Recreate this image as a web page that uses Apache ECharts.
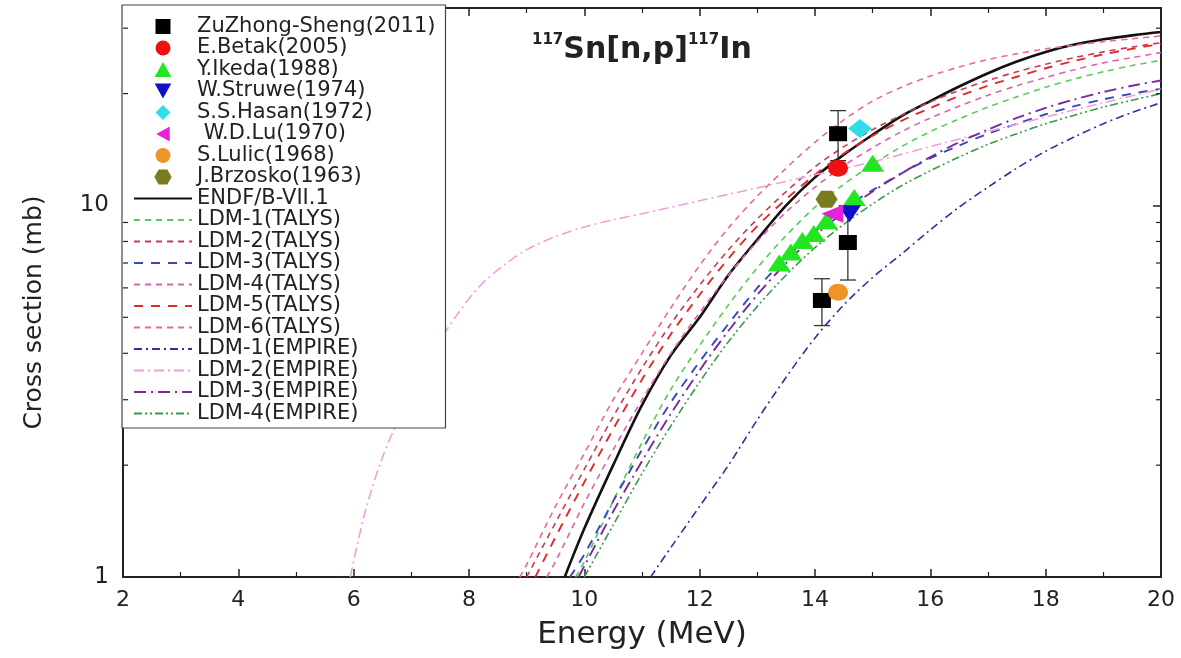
<!DOCTYPE html>
<html>
<head>
<meta charset="utf-8">
<title>117Sn[n,p]117In cross section</title>
<script src="https://cdn.jsdelivr.net/npm/echarts@6/dist/echarts.min.js"></script>
<style>
  html, body { margin: 0; padding: 0; background: #fff; }
  #chart { width: 1181px; height: 658px; }
</style>
</head>
<body>
<div id="chart"></div>
<script>
// axis ranges
var xMin = 2, xMax = 20;
var yMin = 1, yMax = 34;
var minorTickValues = [2, 3, 4, 5, 6, 7, 8, 9, 20, 30];

// experimental points  [E (MeV), sigma (mb)]
var zuZhong = [[14.4, 15.6], [14.57, 7.95], [14.12, 5.55]];
var zuZhongErr = [2.4, 1.65, 0.8];
var betak = [[14.4, 12.6]];
var ikeda = [[13.38, 7.0], [13.58, 7.5], [13.78, 8.05], [13.98, 8.4], [14.2, 9.1], [14.68, 10.5], [15.0, 13.0]];
var struwe = [[14.6, 9.5]];
var hasan = [[14.78, 16.1]];
var wdLu = [[14.3, 9.5]];
var lulic = [[14.4, 5.84]];
var brzosko = [[14.2, 10.4]];

// evaluated / calculated curves
var endf = [[9.66, 1.0], [10, 1.35], [10.5, 2.0], [11, 2.9], [11.5, 3.95], [12, 5.0], [12.5, 6.5], [13, 8.1], [13.5, 10.0], [14, 11.9], [14.5, 13.7], [15, 15.5], [15.5, 17.4], [16, 19.1], [16.5, 20.9], [17, 22.7], [17.5, 24.4], [18, 25.9], [18.5, 27.1], [19, 28.0], [19.5, 28.7], [20, 29.3]];
var ldm1Talys = [[9.85, 1.0], [10, 1.1], [10.5, 1.6], [11, 2.3], [11.5, 3.2], [12, 4.2], [12.5, 5.4], [13, 6.8], [13.5, 8.3], [14, 9.9], [14.5, 11.4], [15, 12.9], [15.5, 14.4], [16, 15.8], [16.5, 17.1], [17, 18.4], [17.5, 19.6], [18, 20.8], [18.5, 21.9], [19, 22.9], [19.5, 23.8], [20, 24.6]];
var ldm2Talys = [[9.0, 1.0], [9.5, 1.4], [10, 1.95], [10.5, 2.7], [11, 3.65], [11.5, 4.8], [12, 6.1], [12.5, 7.6], [13, 9.2], [13.5, 10.9], [14, 12.7], [14.5, 14.4], [15, 16.0], [15.5, 17.5], [16, 19.0], [16.5, 20.4], [17, 21.7], [17.5, 22.9], [18, 24.0], [18.5, 25.0], [19, 25.9], [19.5, 26.7], [20, 27.4]];
var ldm3Talys = [[9.75, 1.0], [10, 1.15], [10.5, 1.6], [11, 2.2], [11.5, 2.95], [12, 3.8], [12.5, 4.8], [13, 6.0], [13.5, 7.2], [14, 8.5], [14.5, 9.8], [15, 11.0], [15.5, 12.2], [16, 13.4], [16.5, 14.5], [17, 15.6], [17.5, 16.6], [18, 17.6], [18.5, 18.5], [19, 19.3], [19.5, 20.0], [20, 20.6]];
var ldm4Talys = [[9.35, 1.0], [9.5, 1.1], [10, 1.58], [10.5, 2.2], [11, 3.0], [11.5, 4.0], [12, 5.15], [12.5, 6.5], [13, 8.0], [13.5, 9.6], [14, 11.2], [14.5, 12.8], [15, 14.3], [15.5, 15.8], [16, 17.2], [16.5, 18.5], [17, 19.8], [17.5, 21.0], [18, 22.1], [18.5, 23.2], [19, 24.2], [19.5, 25.0], [20, 25.8]];
var ldm5Talys = [[9.15, 1.0], [9.5, 1.28], [10, 1.8], [10.5, 2.5], [11, 3.4], [11.5, 4.5], [12, 5.75], [12.5, 7.2], [13, 8.8], [13.5, 10.4], [14, 12.1], [14.5, 13.8], [15, 15.4], [15.5, 16.9], [16, 18.3], [16.5, 19.7], [17, 21.0], [17.5, 22.2], [18, 23.4], [18.5, 24.5], [19, 25.5], [19.5, 26.4], [20, 27.2]];
var ldm6Talys = [[8.88, 1.0], [9, 1.08], [9.5, 1.55], [10, 2.15], [10.5, 3.0], [11, 4.0], [11.5, 5.3], [12, 6.9], [12.5, 8.7], [13, 10.6], [13.5, 12.6], [14, 14.8], [14.5, 17.0], [15, 19.1], [15.5, 20.8], [16, 22.3], [16.5, 23.6], [17, 24.7], [17.5, 25.6], [18, 26.4], [18.5, 27.0], [19, 27.6], [19.5, 28.1], [20, 28.6]];
var ldm1Empire = [[11.15, 1.0], [11.5, 1.2], [12, 1.55], [12.5, 2.0], [13, 2.65], [13.5, 3.45], [14, 4.4], [14.5, 5.4], [15, 6.4], [15.5, 7.4], [16, 8.6], [16.5, 9.9], [17, 11.2], [17.5, 12.6], [18, 14.0], [18.5, 15.3], [19, 16.6], [19.5, 17.8], [20, 18.9]];
var ldm2Empire = [[5.94, 1.0], [6.2, 1.5], [6.5, 2.1], [6.8, 2.7], [7.1, 3.35], [7.4, 4.1], [7.8, 5.1], [8.2, 6.1], [8.6, 6.9], [9, 7.6], [9.5, 8.25], [10, 8.75], [10.5, 9.15], [11, 9.5], [12, 10.3], [13, 11.15], [14, 12.1], [15, 13.1], [16, 14.4], [17, 15.8], [18, 17.3], [19, 18.9], [20, 20.6]];
var ldm3Empire = [[9.9, 1.0], [10, 1.07], [10.5, 1.5], [11, 2.05], [11.5, 2.75], [12, 3.6], [12.5, 4.6], [13, 5.75], [13.5, 7.0], [14, 8.3], [14.5, 9.6], [15, 10.9], [15.5, 12.2], [16, 13.5], [16.5, 14.8], [17, 16.0], [17.5, 17.2], [18, 18.3], [18.5, 19.3], [19, 20.2], [19.5, 21.0], [20, 21.7]];
var ldm4Empire = [[10.0, 1.0], [10.5, 1.38], [11, 1.9], [11.5, 2.55], [12, 3.35], [12.5, 4.3], [13, 5.35], [13.5, 6.5], [14, 7.7], [14.5, 8.9], [15, 10.1], [15.5, 11.3], [16, 12.4], [16.5, 13.5], [17, 14.6], [17.5, 15.6], [18, 16.6], [18.5, 17.5], [19, 18.4], [19.5, 19.2], [20, 20.0]];

// marker shapes
var SQUARE = 'path://M0,0L10,0L10,10L0,10Z';
var TRI_UP = 'path://M5,0L10,9L0,9Z';
var TRI_DOWN = 'path://M0,0L10,0L5,9Z';
var DIAMOND = 'path://M5,0L10,5L5,10L0,5Z';
var TRI_LEFT = 'path://M0,5L9,0L9,10Z';
var HEX = 'path://M2.5,0L7.5,0L10,4.33L7.5,8.66L2.5,8.66L0,4.33Z';

var font = 'DejaVu Sans';

function lineSeries(name, data, color, dash, width) {
    return {
        name: name, type: 'line', data: data, symbol: 'none', smooth: 0.3,
        lineStyle: { color: color, width: width || 1.6, type: dash },
        itemStyle: { color: color },
        z: 3, silent: true
    };
}

function pointSeries(name, data, symbol, size, color) {
    return {
        name: name, type: 'scatter', data: data, symbol: symbol, symbolSize: size,
        symbolKeepAspect: false,
        itemStyle: { color: color, opacity: 1 },
        z: 6
    };
}

var series = [
    lineSeries('ENDF/B-VII.1', endf, '#111111', 'solid', 2.6),
    lineSeries('LDM-1(TALYS)', ldm1Talys, '#55cc55', [6, 5]),
    lineSeries('LDM-2(TALYS)', ldm2Talys, '#c83a5a', [6, 5]),
    lineSeries('LDM-3(TALYS)', ldm3Talys, '#3848b8', [9, 8], 1.9),
    lineSeries('LDM-4(TALYS)', ldm4Talys, '#e060b0', [6, 5]),
    lineSeries('LDM-5(TALYS)', ldm5Talys, '#dd2a2a', [9, 8], 1.9),
    lineSeries('LDM-6(TALYS)', ldm6Talys, '#ee6a88', [6, 5]),
    lineSeries('LDM-1(EMPIRE)', ldm1Empire, '#3030a0', [8, 4, 2, 4]),
    lineSeries('LDM-2(EMPIRE)', ldm2Empire, '#eea0dd', [10, 4, 2, 4]),
    lineSeries('LDM-3(EMPIRE)', ldm3Empire, '#7a2a9a', [12, 5, 2, 5], 1.9),
    lineSeries('LDM-4(EMPIRE)', ldm4Empire, '#3a9a4a', [8, 3, 2, 3, 2, 3]),
    {
        name: 'errorBars', type: 'custom', silent: true, z: 5,
        data: zuZhong.map(function (p, i) { return [p[0], p[1] - zuZhongErr[i], p[1] + zuZhongErr[i]]; }),
        encode: { x: 0, y: [1, 2] },
        renderItem: function (params, api) {
            var lo = api.coord([api.value(0), api.value(1)]);
            var hi = api.coord([api.value(0), api.value(2)]);
            var c = 8;
            var st = { stroke: '#333', lineWidth: 1.3 };
            return {
                type: 'group', children: [
                    { type: 'line', shape: { x1: lo[0], y1: lo[1], x2: hi[0], y2: hi[1] }, style: st },
                    { type: 'line', shape: { x1: lo[0] - c, y1: lo[1], x2: lo[0] + c, y2: lo[1] }, style: st },
                    { type: 'line', shape: { x1: hi[0] - c, y1: hi[1], x2: hi[0] + c, y2: hi[1] }, style: st }
                ]
            };
        }
    },
    {
        // log minor ticks on left and right frame
        name: 'minorTicks', type: 'custom', silent: true, clip: false, z: 7,
        data: minorTickValues.map(function (v) { return [xMin, v]; }),
        encode: { x: 0, y: 1 },
        renderItem: function (params, api) {
            var a = api.coord([xMin, api.value(1)]);
            var b = api.coord([xMax, api.value(1)]);
            var st = { stroke: '#222', lineWidth: 1.2 };
            return {
                type: 'group', children: [
                    { type: 'line', shape: { x1: a[0], y1: a[1], x2: a[0] + 5, y2: a[1] }, style: st },
                    { type: 'line', shape: { x1: b[0] - 5, y1: b[1], x2: b[0], y2: b[1] }, style: st }
                ]
            };
        }
    },
    pointSeries('ZuZhong-Sheng(2011)', zuZhong, SQUARE, [18, 15], '#000000'),
    pointSeries('E.Betak(2005)', betak, 'circle', [20, 17], '#ee1111'),
    pointSeries('Y.Ikeda(1988)', ikeda, TRI_UP, [23, 17], '#22e622'),
    pointSeries('W.Struwe(1974)', struwe, TRI_DOWN, [23, 17], '#1010c8'),
    pointSeries('S.S.Hasan(1972)', hasan, DIAMOND, [24, 19], '#30dde8'),
    pointSeries(' W.D.Lu(1970)', wdLu, TRI_LEFT, [22, 18], '#e820d8'),
    pointSeries('S.Lulic(1968)', lulic, 'circle', [20, 17], '#ee9528'),
    pointSeries('J.Brzosko(1963)', brzosko, HEX, [22, 17], '#7a7a1e')
];

var curveNames = ['ENDF/B-VII.1', 'LDM-1(TALYS)', 'LDM-2(TALYS)', 'LDM-3(TALYS)', 'LDM-4(TALYS)',
    'LDM-5(TALYS)', 'LDM-6(TALYS)', 'LDM-1(EMPIRE)', 'LDM-2(EMPIRE)', 'LDM-3(EMPIRE)', 'LDM-4(EMPIRE)'];

var legendItems = [
    { name: 'ZuZhong-Sheng(2011)', icon: SQUARE },
    { name: 'E.Betak(2005)', icon: 'circle' },
    { name: 'Y.Ikeda(1988)', icon: TRI_UP },
    { name: 'W.Struwe(1974)', icon: TRI_DOWN },
    { name: 'S.S.Hasan(1972)', icon: DIAMOND },
    { name: ' W.D.Lu(1970)', icon: TRI_LEFT },
    { name: 'S.Lulic(1968)', icon: 'circle' },
    { name: 'J.Brzosko(1963)', icon: HEX }
].concat(curveNames.map(function (n) {
    // line sample only, hide the marker drawn in the middle
    return { name: n, itemStyle: { opacity: 0 } };
}));

var axisColor = '#222';

var chart = echarts.init(document.getElementById('chart'));
var option = {
    animation: false,
    backgroundColor: '#ffffff',
    title: {
        text: '{s|117}{m|Sn[n,p]}{s|117}{m|In}',
        left: 527, top: 28,
        textStyle: {
            rich: {
                s: { fontFamily: font, fontWeight: 'bold', fontSize: 15, color: '#222', lineHeight: 14, verticalAlign: 'top' },
                m: { fontFamily: font, fontWeight: 'bold', fontSize: 30, color: '#222', lineHeight: 34 }
            }
        }
    },
    grid: { left: 123, right: 20, top: 8, bottom: 81, containLabel: false, outerBoundsMode: 'none' },
    legend: {
        orient: 'vertical', left: 122, top: 5,
        data: legendItems,
        itemWidth: 58, itemHeight: 15, itemGap: 0.5,
        padding: [11, 10, 4, 11],
        backgroundColor: '#ffffff', borderColor: '#444', borderWidth: 1.2, borderRadius: 0,
        textStyle: { fontFamily: font, fontSize: 21, lineHeight: 21, color: '#222' },
        selectedMode: false
    },
    xAxis: [{
        type: 'value', min: xMin, max: xMax, interval: 2, position: 'bottom',
        name: 'Energy (MeV)', nameLocation: 'middle', nameGap: 42,
        nameTextStyle: { fontFamily: font, fontSize: 31, color: axisColor },
        axisLine: { show: true, onZero: false, lineStyle: { color: axisColor, width: 2 } },
        axisTick: { show: true, inside: true, length: 8, lineStyle: { color: axisColor, width: 1.5 } },
        minorTick: { show: true, splitNumber: 2, length: 5, lineStyle: { color: axisColor, width: 1.2 } },
        splitLine: { show: false },
        axisLabel: { fontFamily: font, fontSize: 22, color: axisColor, margin: 12 }
    }, {
        type: 'value', min: xMin, max: xMax, interval: 2, position: 'top',
        axisLine: { show: true, onZero: false, lineStyle: { color: axisColor, width: 2 } },
        axisTick: { show: true, inside: true, length: 8, lineStyle: { color: axisColor, width: 1.5 } },
        minorTick: { show: true, splitNumber: 2, length: 5, lineStyle: { color: axisColor, width: 1.2 } },
        splitLine: { show: false },
        axisLabel: { show: false }
    }],
    yAxis: [{
        type: 'log', logBase: 10, min: yMin, max: yMax, position: 'left',
        name: 'Cross section (mb)', nameLocation: 'middle', nameGap: 76,
        nameTextStyle: { fontFamily: font, fontSize: 25, color: axisColor, padding: [0, 40, 0, 0] },
        axisLine: { show: true, onZero: false, lineStyle: { color: axisColor, width: 2 } },
        axisTick: { show: true, inside: true, length: 8, lineStyle: { color: axisColor, width: 1.5 } },
        splitLine: { show: false },
        axisLabel: { fontFamily: font, fontSize: 23, color: axisColor, margin: 14, showMaxLabel: false }
    }, {
        type: 'log', logBase: 10, min: yMin, max: yMax, position: 'right',
        axisLine: { show: true, onZero: false, lineStyle: { color: axisColor, width: 2 } },
        axisTick: { show: true, inside: true, length: 8, lineStyle: { color: axisColor, width: 1.5 } },
        splitLine: { show: false },
        axisLabel: { show: false }
    }],
    series: series
};
chart.setOption(option);
</script>
</body>
</html>
